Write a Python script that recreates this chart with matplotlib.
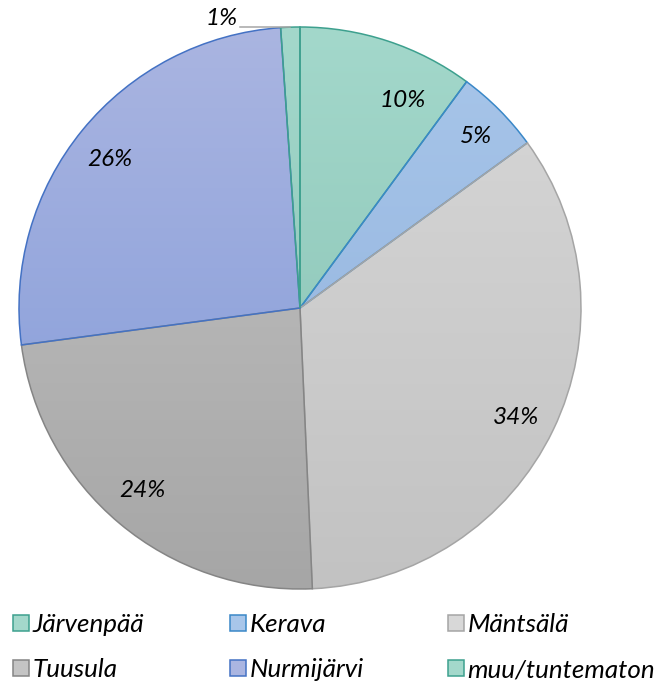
import numpy as np
import matplotlib
matplotlib.use("Agg")
import matplotlib.pyplot as plt
from matplotlib.patches import Patch
from matplotlib.colors import to_rgb

# data
labels = ["Järvenpää", "Kerava", "Mäntsälä", "Tuusula", "Nurmijärvi", "muu/tuntematon"]
values = [10.1, 4.9, 34.3, 23.6, 26.0, 1.1]

# colours: top of pie, bottom of pie, edge
top_cols = ["#A3D8CB", "#A8C6EA", "#D8D8D8", "#C4C4C4", "#AAB5E1", "#A3D8CB"]
bot_cols = ["#86BFB1", "#8FB0DB", "#C2C2C2", "#A6A6A6", "#8099D8", "#86BFB1"]
edge_cols = ["#3DA08E", "#3A88C8", "#A5A5A5", "#858585", "#4472C4", "#3DA08E"]

# label spots inside the slices (best-fit style, in pie radius units)
label_pos = [(0.367, 0.737), (0.626, 0.612), (0.769, -0.388), (-0.562, -0.651), (-0.676, 0.527)]

plt.rcParams['font.family'] = ['Lato', 'DejaVu Sans']

W, H = 657, 684
fig = plt.figure(figsize=(W / 100, H / 100), dpi=100)
# pie centre (300,308) px, radius 281 px
R = 281
ax = fig.add_axes([(300 - R) / W, (H - 308 - R) / H, 2 * R / W, 2 * R / H])

wedges, texts, autotexts = ax.pie(
    values, startangle=90, counterclock=False, radius=1,
    autopct='%.0f%%', pctdistance=0.86,
    wedgeprops=dict(linewidth=1.1),
    textprops=dict(fontsize=17.5, style='italic', color='black'))

ax.set_xlim(-1, 1)
ax.set_ylim(-1, 1)
ax.set_aspect('equal')
ax.axis('off')

# vertical gradient fill in each wedge
t = np.linspace(1, 0, 256)[:, None]
for w, tc, bc, ec in zip(wedges, top_cols, bot_cols, edge_cols):
    c1 = np.array(to_rgb(tc))
    c2 = np.array(to_rgb(bc))
    grad = (c1[None, None, :] * t[:, :, None] + c2[None, None, :] * (1 - t[:, :, None]))
    grad = np.repeat(grad, 2, axis=1)
    im = ax.imshow(grad, extent=(-1, 1, -1, 1), aspect='auto', zorder=1, interpolation='bilinear')
    im.set_clip_path(w)
    w.set_facecolor('none')
    w.set_edgecolor(ec)
    w.set_zorder(2)

for txt, pos in zip(autotexts, label_pos):
    txt.set_position(pos)
    txt.set_zorder(3)

# the 1% label sits outside with a leader line
autotexts[-1].set_visible(False)
ax.plot([-0.214, -0.036], [1.0, 1.0], color='#A6A6A6', lw=1.1, zorder=3, clip_on=False)
ax.text(-0.28, 1.032, "1%", fontsize=17.5, style='italic', ha='center', va='center', clip_on=False)

# legend: 3 equal-width columns, 2 rows (filled row by row)
col_x = [13, 230, 448]
for c in range(3):
    idx = [c, c + 3]
    handles = [Patch(facecolor=top_cols[i], edgecolor=edge_cols[i], linewidth=1.1) for i in idx]
    leg = fig.legend(handles, [labels[i] for i in idx], loc='upper left',
                     bbox_to_anchor=(col_x[c] / W, 71 / H), borderaxespad=0, borderpad=0,
                     frameon=False, prop=dict(size=18.7, style='italic'),
                     handlelength=0.6, handleheight=0.6, handletextpad=0.15, labelspacing=0.85)

fig.savefig("out.png", dpi=100)
